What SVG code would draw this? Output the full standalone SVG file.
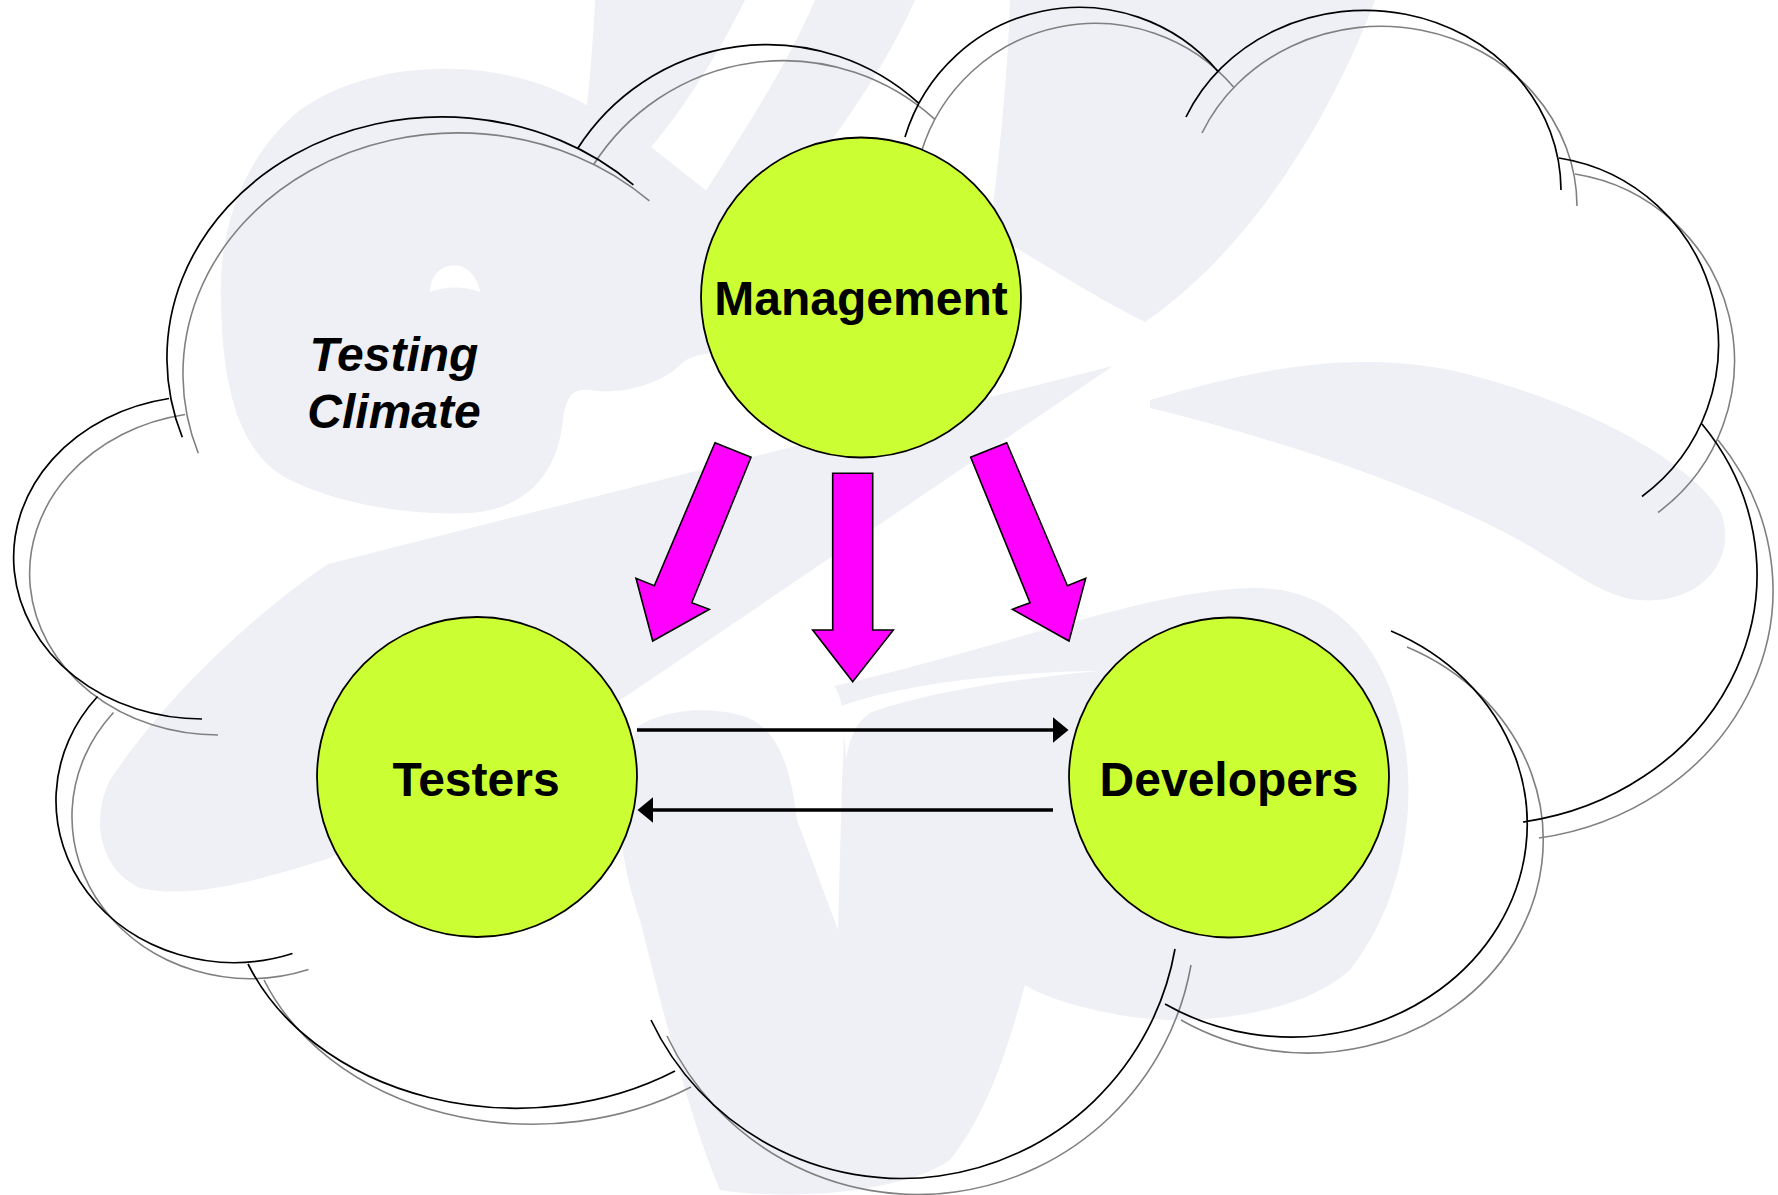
<svg xmlns="http://www.w3.org/2000/svg" width="1778" height="1195" viewBox="0 0 1778 1195">
<defs>
<style>
.wm{fill:#EFF0F6;stroke:none}
.cloud{fill:none}
.node{fill:#CCFF33;stroke:#000;stroke-width:1.8}
.lbl{font-family:"Liberation Sans",Arial,Helvetica,sans-serif;font-weight:bold;font-size:48px;fill:#000;text-anchor:middle}
.blk{fill:#FF00FF;stroke:#000;stroke-width:1.6;stroke-linejoin:miter}
.con{stroke:#000;stroke-width:3.5;fill:none}
</style>
<marker id="ah" markerUnits="userSpaceOnUse" markerWidth="16" markerHeight="26" refX="0" refY="12.7" orient="auto">
<path d="M0,0 L15.5,12.7 L0,25.4 Z" fill="#000"/>
</marker>
<path id="cloudPath" d="M182.3,437.3 A275,241 0 0 1 633.4,184.9
M577.5,148.8 A225,225 0 0 1 918.3,102.9
M905,137 A182,182 0 0 1 1218,71.5
M1186,117 A196,180 0 0 1 1561,190
M1559,158 A189,189 0 0 1 1642,496.5
M1702,424 A277,251 0 0 1 1523,822
M1391,631 A236,213 0 1 1 1165,1004
M1175,949 A277.5,277.5 0 0 1 651,1020
M675,1071 A289,228 0 0 1 248,964
M292.5,953.5 A178,162 0 0 1 97.5,696.5
M202,719 A188.4,161.5 0 0 1 169,398.5"/>
</defs>
<rect width="1778" height="1195" fill="#FFFFFF"/>
<g id="watermark">
<path class="wm" d="M221,300 C218,220 250,150 300,110 C350,75 420,62 490,72 C560,82 620,120 680,170 L770,240 L770,340 C740,360 700,345 680,365 C660,385 620,395 590,390 C570,388 566,400 563,420 C558,470 530,505 480,512 C420,518 340,505 290,480 C240,455 222,390 221,300 Z"/>
<path class="wm" d="M595,0 L745,0 C715,60 680,115 640,160 L585,125 C590,80 593,40 595,0 Z"/>
<path class="wm" d="M815,0 L915,0 C880,80 820,160 760,230 L700,200 C745,130 790,60 815,0 Z"/>
<path class="wm" d="M1010,0 L1375,0 C1330,120 1250,250 1145,322 C1100,300 1040,262 990,232 C1000,150 1008,70 1010,0 Z"/>
<path class="wm" d="M1113,366 L328,564 C260,610 170,690 110,780 C90,820 100,870 140,888 C190,900 260,880 330,858 L625,697 Z"/>
<path class="wm" d="M637,727 C660,712 700,705 740,715 C775,725 790,760 797,820 L838,930 L842,780 C845,730 845,700 834,686 C1000,648 1150,590 1250,588 C1330,585 1380,640 1400,720 C1420,800 1405,900 1350,970 C1300,1015 1200,1025 1140,1018 C1080,1010 1040,995 1025,985 C1010,1040 990,1110 950,1160 C900,1195 780,1200 720,1190 C690,1120 660,1000 640,920 C620,860 610,800 637,727 Z"/>
<path class="wm" d="M1150,400 C1250,370 1350,350 1450,370 C1560,395 1680,450 1720,510 C1740,560 1700,605 1640,600 C1600,598 1560,560 1500,530 C1400,480 1280,440 1150,408 Z"/>
<path d="M430,292 C430,272 446,262 460,266 C472,270 479,282 480,292 C465,286 445,286 430,292 Z" fill="#FFFFFF"/>
<path d="M836,708 C880,690 980,672 1100,671 C1000,680 920,695 872,712 C858,720 850,735 846,760 C845,735 842,720 836,708 Z" fill="#FFFFFF"/>
</g>
<g id="cloud">
<use href="#cloudPath" class="cloud" transform="translate(16,16)" stroke="#808080" stroke-width="1.6"/>
<use href="#cloudPath" class="cloud" stroke="#000000" stroke-width="1.7"/>
</g>
<text class="lbl" font-style="italic" x="394" y="371">Testing</text>
<text class="lbl" font-style="italic" x="394" y="428">Climate</text>
<g id="connectors">
<polygon class="blk" points="715,442.7 751,457.3 691.7,602.7 709.3,609.3 652.7,641 636,578.3 654.3,585.7"/>
<polygon class="blk" points="832.7,473.3 872.7,473.3 872.7,630 893.3,630 852.7,681.7 812.7,630 832.7,630"/>
<polygon class="blk" points="1006.7,442.7 970.7,457.3 1030,602.7 1012.4,609.3 1069,641 1085.7,578.3 1067.4,585.7"/>
<line class="con" x1="637" y1="730" x2="1053" y2="730" marker-end="url(#ah)"/>
<line class="con" x1="1053" y1="810" x2="653" y2="810" marker-end="url(#ah)"/>
</g>
<g id="management">
<circle class="node" cx="861" cy="297.5" r="160"/>
<text class="lbl" x="861" y="315">Management</text>
</g>
<g id="testers">
<circle class="node" cx="477" cy="777" r="160"/>
<text class="lbl" x="476" y="796">Testers</text>
</g>
<g id="developers">
<circle class="node" cx="1229" cy="777.5" r="160"/>
<text class="lbl" x="1229" y="796">Developers</text>
</g>
</svg>
